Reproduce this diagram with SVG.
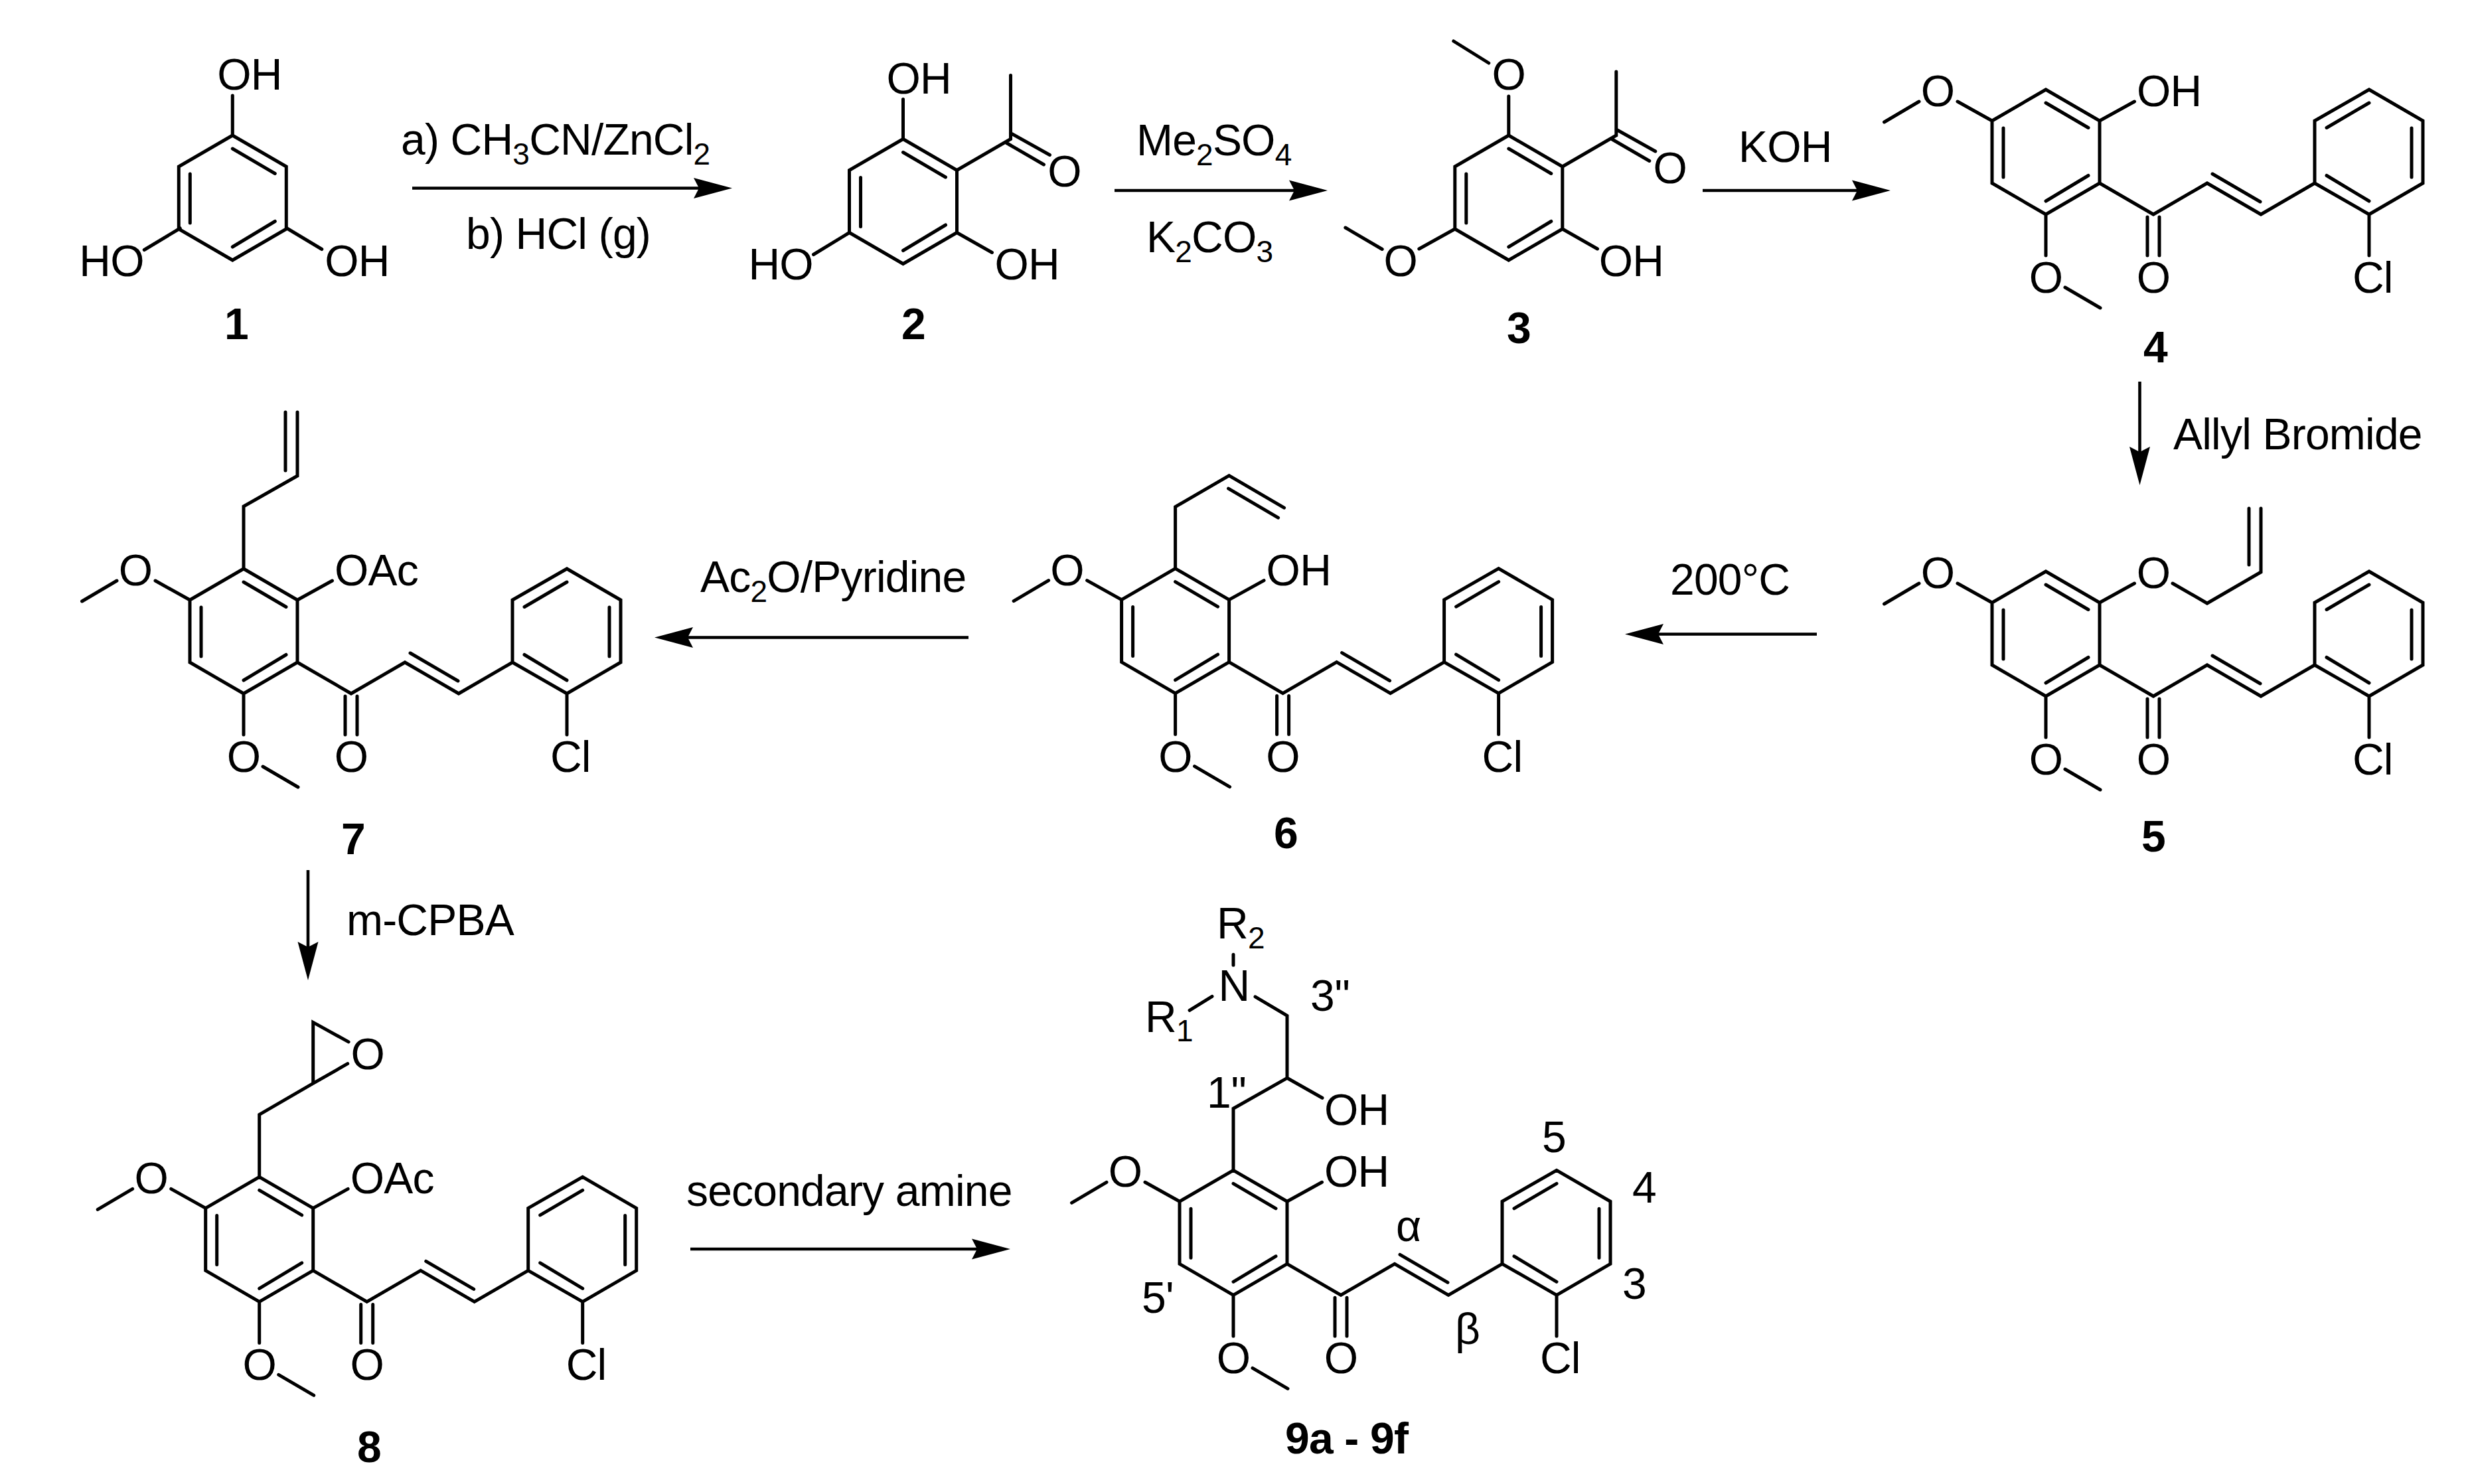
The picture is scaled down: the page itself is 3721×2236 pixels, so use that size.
<svg xmlns="http://www.w3.org/2000/svg" width="3721" height="2236" viewBox="0 0 3721 2236">
<style>
text{font-family:"Liberation Sans",Arial,sans-serif;font-size:66px;letter-spacing:-.8px;fill:#000}
.m{text-anchor:middle}
.b{font-weight:bold}
.s{font-size:46px}
.bond{fill:none;stroke:#000;stroke-width:5;stroke-linejoin:miter;stroke-linecap:round}
.arrow{fill:none;stroke:#000;stroke-width:4.6;marker-end:url(#head)}
</style>
<defs>
<marker id="head" markerUnits="userSpaceOnUse" markerWidth="64" markerHeight="36" refX="8" refY="18" orient="auto" viewBox="0 0 64 36"><path d="M0 2.5L58 18L0 33.5L8 18Z" fill="#000"/></marker>
<path id="ring" class="bond" d="M0 0L81 47V141L0 188L-81 141V47ZM0 20L64 57.5M-64 58V132M64 129.5L0 168"/>
<path id="core" class="bond" d="M0 0L81 47V141L0 188L-81 141V47ZM0 20L64 57.5M-64 58V132M64 129.5L0 168M-81 47L-133 18M-191 18L-243.5 49M0 188V250M29 298L82 329M81 141L162 188L243 141L324 188L405 141M153 192V250M171 192V250M251 127L323 169M405 141V47L487 0L568 47V141L487 188L405 141M423 57.5L487 20M551 58V132M423 129.5L487 168M487 188V250"/>
</defs>
<rect width="3721" height="2236" fill="#fff"/>
<g id="connectors">
<path class="arrow" d="M621 283.5H1053"/>
<path class="arrow" d="M1679 287H1950"/>
<path class="arrow" d="M2565 287H2798"/>
<path class="arrow" d="M3223.5 575V681"/>
<path class="arrow" d="M2737 955.5H2498"/>
<path class="arrow" d="M1459 960.5H1036"/>
<path class="arrow" d="M464 1311V1427"/>
<path class="arrow" d="M1040 1882H1472"/>
</g>
<g id="reagents">
<text id="r1a" x="604" y="233">a) CH<tspan class="s" dy="15">3</tspan><tspan dy="-15">CN/ZnCl</tspan><tspan class="s" dy="15">2</tspan></text>
<text id="r1b" x="702" y="374.5">b) HCl (g)</text>
<text id="r2a" x="1712" y="233.5">Me<tspan class="s" dy="15">2</tspan><tspan dy="-15">SO</tspan><tspan class="s" dy="15">4</tspan></text>
<text id="r2b" x="1727" y="380">K<tspan class="s" dy="15">2</tspan><tspan dy="-15">CO</tspan><tspan class="s" dy="15">3</tspan></text>
<text id="r3" x="2619" y="244">KOH</text>
<text id="r4" x="3274" y="677">Allyl Bromide</text>
<text id="r5" x="2516" y="896">200°C</text>
<text id="r6" x="1055" y="892">Ac<tspan class="s" dy="15">2</tspan><tspan dy="-15">O/Pyridine</tspan></text>
<text id="r7" x="522" y="1408.5">m-CPBA</text>
<text id="r8" x="1034" y="1816.5">secondary amine</text>
</g>
<g id="compound-1">
<g transform="translate(350.3 204)">
<use href="#ring"/>
<path class="bond" d="M0 0V-60M-79 140L-133 172.5M82 140L134.5 171.5"/>
<text x="-23" y="-69">OH</text>
<text x="-231" y="212">HO</text>
<text x="139" y="212">OH</text>
</g>
<text class="b m" x="356" y="511">1</text>
</g>
<g id="compound-2">
<g transform="translate(1360.5 209.5)">
<use href="#ring"/>
<path class="bond" d="M81 47L162 0V-96M162 -9L221 24M156 6L212 38.5M-81 141L-135 174M81 141L134 171"/>
<path class="bond" d="M0 0V-60"/>
<text class="m" x="243" y="71">O</text>
<text x="-25" y="-69">OH</text>
<text x="-233" y="211">HO</text>
<text x="138" y="211">OH</text>
</g>
<text class="b m" x="1376" y="511">2</text>
</g>
<g id="compound-3">
<g transform="translate(2272.8 204)">
<use href="#ring"/>
<path class="bond" d="M0 0V-59M-30 -109L-83 -142M81 47L162 0V-96M162 -9L221 24M156 6L212 38.5M-81 141L-135 171M-190.6 171.5L-246 139M81 141L133.7 171"/>
<text class="m" x="0" y="-69">O</text>
<text class="m" x="243" y="72">O</text>
<text class="m" x="-163" y="212">O</text>
<text x="136" y="212">OH</text>
</g>
<text class="b m" x="2288" y="516.5">3</text>
</g>
<g id="compound-4">
<g transform="translate(3082 135)">
<use href="#core"/>
<path class="bond" d="M81 47L133.5 18"/>
<text class="m" x="-163" y="25">O</text>
<text x="137" y="25">OH</text>
<text class="m" x="0" y="306">O</text>
<text class="m" x="162" y="306">O</text>
<text x="462" y="306">Cl</text>
</g>
<text class="b m" x="3247" y="546">4</text>
</g>
<g id="compound-5">
<g transform="translate(3082 861)">
<use href="#core"/>
<path class="bond" d="M81 47L133.5 18M191 18L243 48L324 1V-95M306 -10V-95"/>
<text class="m" x="-163" y="25">O</text>
<text class="m" x="162" y="25">O</text>
<text class="m" x="0" y="306">O</text>
<text class="m" x="162" y="306">O</text>
<text x="462" y="306">Cl</text>
</g>
<text class="b m" x="3244" y="1283">5</text>
</g>
<g id="compound-6">
<g transform="translate(1770.6 856.6)">
<use href="#core"/>
<path class="bond" d="M81 47L133.5 18M0 0V-93L81 -140L164 -91.5M80 -120.5L155 -76.5"/>
<text class="m" x="-163" y="25">O</text>
<text x="137" y="25">OH</text>
<text class="m" x="0" y="306">O</text>
<text class="m" x="162" y="306">O</text>
<text x="462" y="306">Cl</text>
</g>
<text class="b m" x="1937" y="1278">6</text>
</g>
<g id="compound-7">
<g transform="translate(367 857)">
<use href="#core"/>
<path class="bond" d="M81 47L133.5 18M0 0V-94L81 -140V-236M63 -148V-236"/>
<text class="m" x="-163" y="25">O</text>
<text x="137" y="25">OAc</text>
<text class="m" x="0" y="306">O</text>
<text class="m" x="162" y="306">O</text>
<text x="462" y="306">Cl</text>
</g>
<text class="b m" x="532" y="1286.5">7</text>
</g>
<g id="compound-8">
<g transform="translate(390.7 1773.4)">
<use href="#core"/>
<path class="bond" d="M81 47L133.5 18M0 0V-94L81 -141V-233L134.4 -203.5M81 -141L133 -170.7"/>
<text class="m" x="163" y="-162">O</text>
<text class="m" x="-163" y="25">O</text>
<text x="137" y="25">OAc</text>
<text class="m" x="0" y="306">O</text>
<text class="m" x="162" y="306">O</text>
<text x="462" y="306">Cl</text>
</g>
<text class="b m" x="556" y="2202.5">8</text>
</g>
<g id="compound-9">
<g transform="translate(1858 1763.3)">
<use href="#core"/>
<path class="bond" d="M81 47L133.5 18M0 0V-93L81 -139V-233L33 -261.5M0 -309V-325M-32 -262L-66 -241M81 -139L134 -109"/>
<text class="m" x="-163" y="25">O</text>
<text x="137" y="25">OH</text>
<text class="m" x="0" y="306">O</text>
<text class="m" x="162" y="306">O</text>
<text x="462" y="306">Cl</text>
</g>
<text class="m" x="1859" y="1508">N</text>
<text x="1833" y="1414">R<tspan class="s" dy="15">2</tspan></text>
<text x="1725" y="1555">R<tspan class="s" dy="14">1</tspan></text>
<text x="1974" y="1523">3''</text>
<text x="1818" y="1669">1''</text>
<text x="1995" y="1695">OH</text>
<text x="2323" y="1736">5</text>
<text x="2459" y="1812">4</text>
<text x="2444" y="1957">3</text>
<text x="1720" y="1977.5">5'</text>
<text x="2103" y="1870">α</text>
<text x="2192" y="2025">β</text>
<text class="b" x="1936" y="2189.5">9a - 9f</text>
</g>
</svg>
